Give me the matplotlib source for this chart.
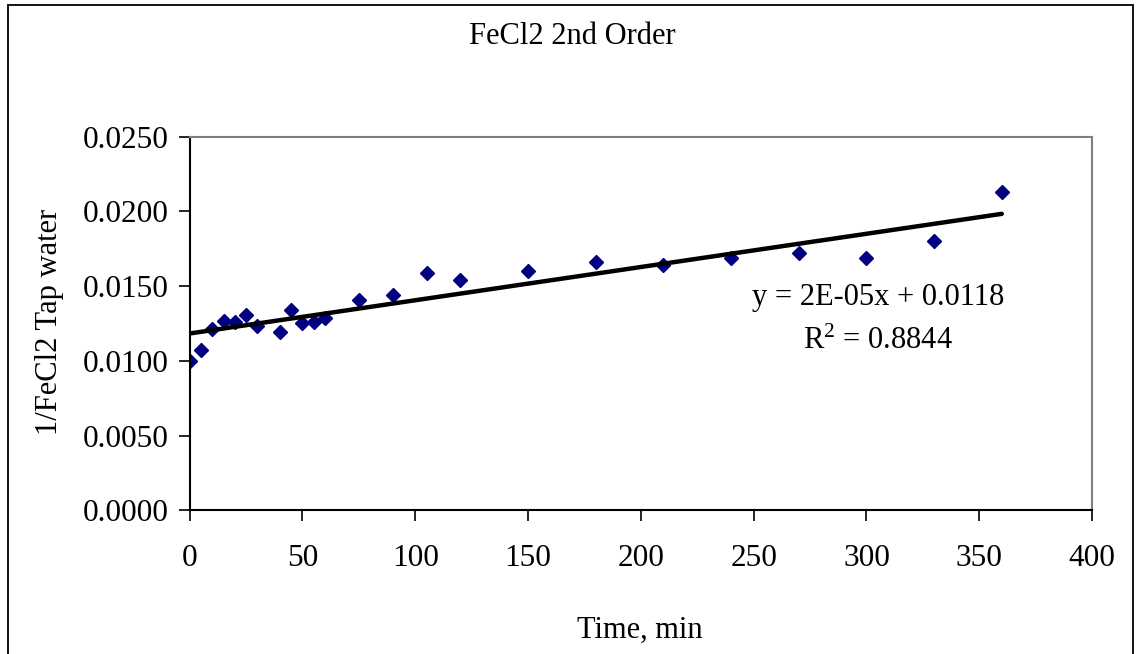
import numpy as np
import matplotlib
matplotlib.use("Agg")
import matplotlib.pyplot as plt
from matplotlib.patches import Rectangle
from matplotlib.ticker import FormatStrFormatter

plt.rcParams['font.family'] = ['Liberation Serif', 'DejaVu Serif']
plt.rcParams['mathtext.fontset'] = 'custom'
plt.rcParams['mathtext.rm'] = 'Liberation Serif'
plt.rcParams['mathtext.it'] = 'Liberation Serif:italic'

# Time (min) and 1/[FeCl2] in tap water
time_min = [0, 5, 10, 15, 20, 25, 30, 40, 45, 50, 55, 60, 75, 90, 105, 120,
            150, 180, 210, 240, 270, 300, 330, 360]
inv_fecl2 = [0.0100, 0.0107, 0.0121, 0.0127, 0.0126, 0.0131, 0.0123, 0.0119,
             0.0134, 0.0125, 0.0126, 0.0129, 0.0141, 0.0144, 0.0159, 0.0154,
             0.0160, 0.0166, 0.0164, 0.0169, 0.0172, 0.0169, 0.0180, 0.0213]

x_ticks = [0, 50, 100, 150, 200, 250, 300, 350, 400]
y_ticks = [0.0, 0.005, 0.010, 0.015, 0.020, 0.025]

title = "FeCl2 2nd Order"
x_label = "Time, min"
y_label = "1/FeCl2 Tap water"
eq_label = "y = 2E-05x + 0.0118"
r2_label = "R$^{2}$ = 0.8844"

W, H = 1138, 654
fig = plt.figure(figsize=(W / 100, H / 100), dpi=100)
fig.patch.set_facecolor("white")

# outer chart border (bottom edge runs past the image)
fig.patches.append(Rectangle((7.5 / W, -0.05), (1133 - 7.5) / W, 1.05 - 5 / H,
                             transform=fig.transFigure, fill=False,
                             edgecolor="black", linewidth=1.3))

ax = fig.add_axes([189.7 / W, 143.7 / H, (1092 - 189.7) / W, (510.3 - 136.7) / H])

x = np.array(time_min, dtype=float)
y = np.array(inv_fecl2, dtype=float)
slope, intercept = np.polyfit(x, y, 1)
xl = np.array([x.min(), x.max()])
ax.plot(xl, slope * xl + intercept, color="black", linewidth=3.2,
        solid_capstyle="round", zorder=3)
ax.plot(x, y, linestyle="none", marker="D", markersize=7.4,
        color="#000080", markeredgecolor="#000080", zorder=2)

ax.set_xlim(0, 400)
ax.set_ylim(0, 0.025)
ax.set_xticks(x_ticks)
ax.set_yticks(y_ticks)
ax.yaxis.set_major_formatter(FormatStrFormatter("%.4f"))
ax.tick_params(direction="out", length=8, width=1.2, labelsize=22.5,
               colors="black", pad=7)
ax.tick_params(axis="x", pad=16)

for side in ("left", "bottom"):
    ax.spines[side].set_color("black")
    ax.spines[side].set_linewidth(1.5)
for side in ("top", "right"):
    ax.spines[side].set_color("#808080")
    ax.spines[side].set_linewidth(1.5)

fig.text(572 / W, 1 - 37 / H, title, ha="center", va="center", fontsize=22)
fig.text(640 / W, 1 - 630 / H, x_label, ha="center", va="center", fontsize=22)
fig.text(50 / W, 1 - 322 / H, y_label, ha="center", va="center",
         rotation=90, fontsize=22)

ax.text(305, 0.025 * (510.3 - 298) / (510.3 - 136.7), eq_label,
        ha="center", va="center", fontsize=22)
ax.text(305, 0.025 * (510.3 - 341.7) / (510.3 - 136.7), r2_label,
        ha="center", va="center", fontsize=22)

fig.savefig("out.png", dpi=100, facecolor="white")
